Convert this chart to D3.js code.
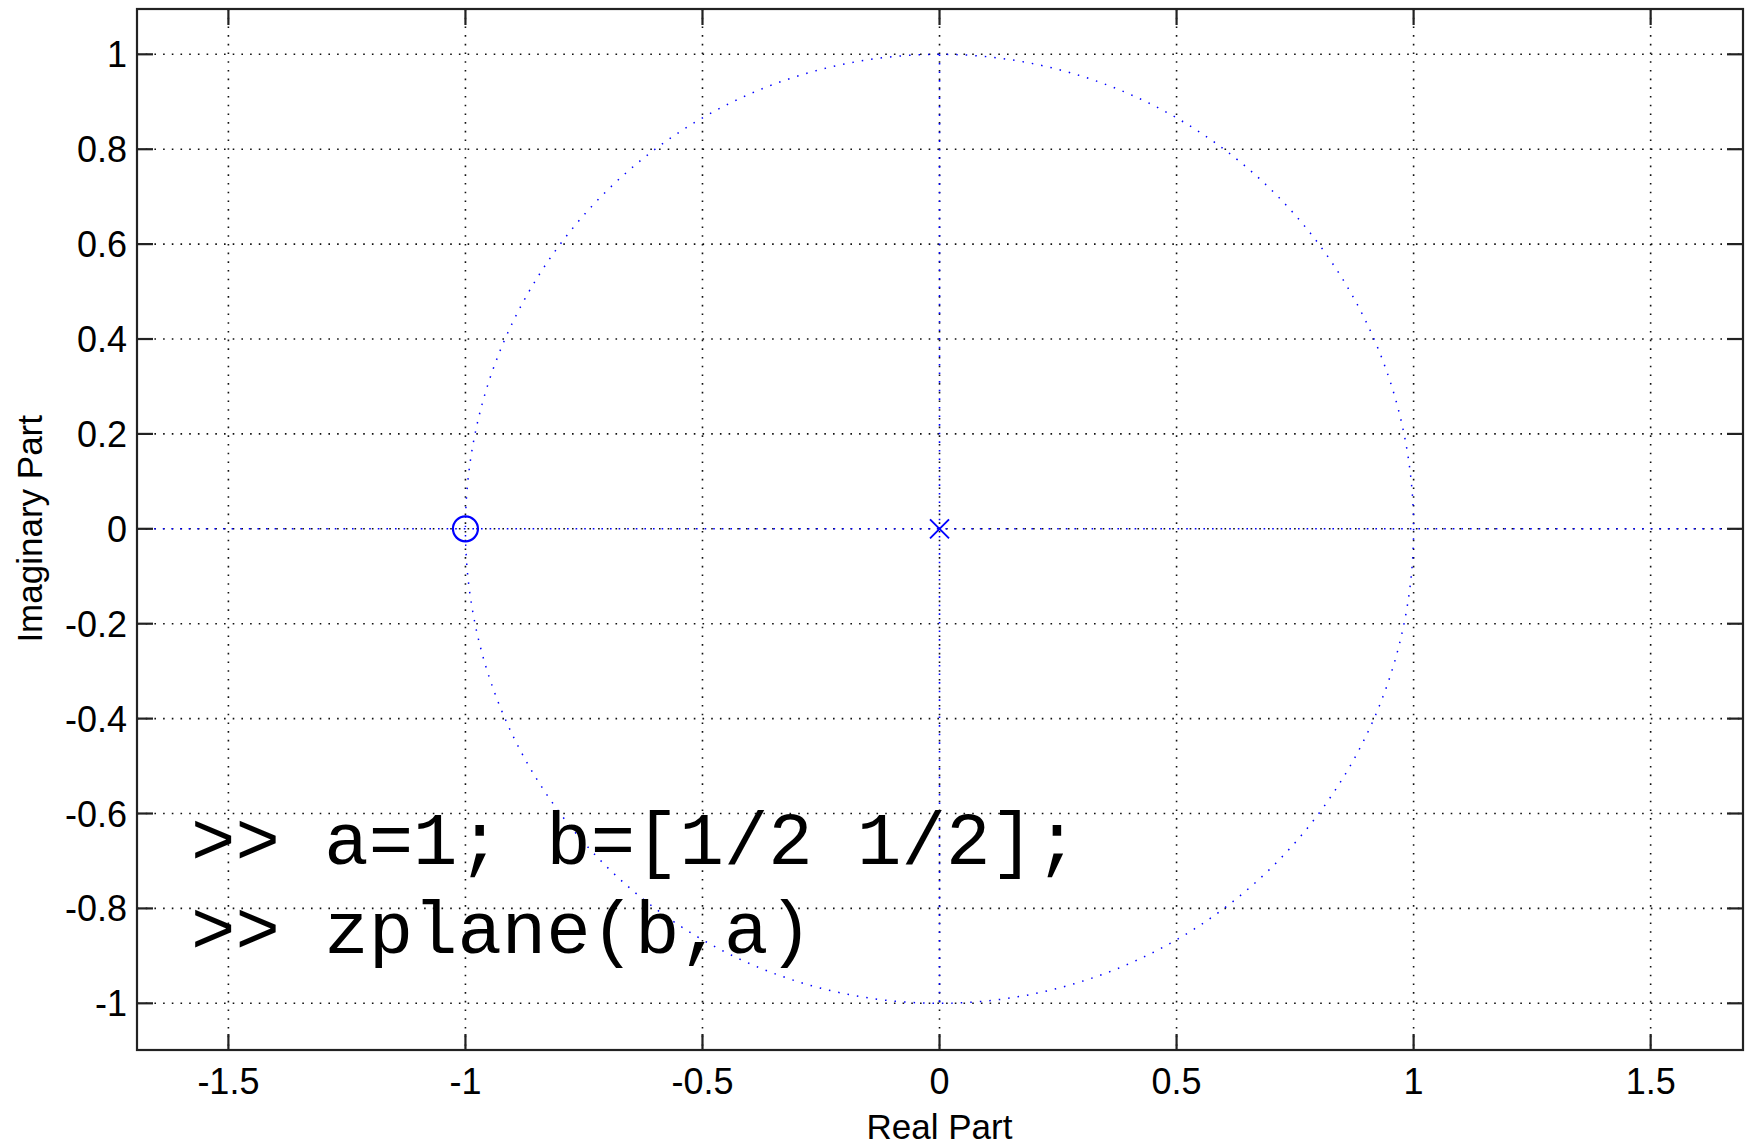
<!DOCTYPE html>
<html>
<head>
<meta charset="utf-8">
<script src="https://cdn.jsdelivr.net/npm/d3@7"></script>
<style>
  html, body { margin: 0; padding: 0; background: #fff; }
  svg { display: block; }
</style>
</head>
<body>
<script>
// ---- data ----
const xTicks = [-1.5, -1, -0.5, 0, 0.5, 1, 1.5];
const yTicks = [-1, -0.8, -0.6, -0.4, -0.2, 0, 0.2, 0.4, 0.6, 0.8, 1];
const zerosRe = [-1];
const zerosIm = [0];
const polesRe = [0];
const polesIm = [0];
const unitRadius = 1;
const codeLines = [">> a=1; b=[1/2 1/2];", ">> zplane(b,a)"];
const xLabel = "Real Part";
const yLabel = "Imaginary Part";

// ---- layout ----
const W = 1752, H = 1145;
const L = 137, T = 9, R = 1743, B = 1050;
const svg = d3.select("body").append("svg").attr("width", W).attr("height", H);

const x = d3.scaleLinear().domain([-1.6928, 1.6948]).range([L, R]);
const y = d3.scaleLinear().domain([-1.0984, 1.0955]).range([B, T]);

const blue = "#0000ff";
const font = "'Liberation Sans', Arial, sans-serif";

// grid
const g = svg.append("g");
g.selectAll("line.gx").data(xTicks).join("line")
  .attr("x1", d => x(d)).attr("x2", d => x(d)).attr("y1", T).attr("y2", B)
  .attr("stroke", "#111").attr("stroke-width", 1.6).attr("stroke-dasharray", "1.6,7.1");
g.selectAll("line.gy").data(yTicks).join("line")
  .attr("y1", d => y(d)).attr("y2", d => y(d)).attr("x1", L).attr("x2", R)
  .attr("stroke", "#111").attr("stroke-width", 1.6).attr("stroke-dasharray", "1.6,7.1");

// zplane axes lines (blue dotted)
svg.append("line").attr("x1", L).attr("x2", R).attr("y1", y(0)).attr("y2", y(0))
  .attr("stroke", blue).attr("stroke-width", 1.6).attr("stroke-dasharray", "1.6,7");
svg.append("line").attr("x1", x(0)).attr("x2", x(0)).attr("y1", y(unitRadius)).attr("y2", y(-unitRadius))
  .attr("stroke", blue).attr("stroke-width", 1.6).attr("stroke-dasharray", "1.6,7");

// unit circle
svg.append("ellipse").attr("cx", x(0)).attr("cy", y(0))
  .attr("rx", x(unitRadius) - x(0)).attr("ry", y(0) - y(unitRadius))
  .attr("fill", "none").attr("stroke", blue).attr("stroke-width", 1.5).attr("stroke-dasharray", "1.5,8");

// zeros
svg.selectAll("circle.zero").data(zerosRe.map((r, i) => [r, zerosIm[i]])).join("circle")
  .attr("cx", d => x(d[0])).attr("cy", d => y(d[1])).attr("r", 12.5)
  .attr("fill", "none").attr("stroke", blue).attr("stroke-width", 2.2);

// poles
const pg = svg.selectAll("g.pole").data(polesRe.map((r, i) => [r, polesIm[i]])).join("g")
  .attr("transform", d => `translate(${x(d[0])},${y(d[1])})`);
const s = 9.5;
pg.append("line").attr("x1", -s).attr("y1", -s).attr("x2", s).attr("y2", s).attr("stroke", blue).attr("stroke-width", 1.8);
pg.append("line").attr("x1", -s).attr("y1", s).attr("x2", s).attr("y2", -s).attr("stroke", blue).attr("stroke-width", 1.8);

// axes box + ticks
const tl = 16;
const ax = svg.append("g").attr("stroke", "#222").attr("stroke-width", 2.2);
ax.append("rect").attr("x", L).attr("y", T).attr("width", R - L).attr("height", B - T).attr("fill", "none");
xTicks.forEach(d => {
  ax.append("line").attr("x1", x(d)).attr("x2", x(d)).attr("y1", B).attr("y2", B - tl);
  ax.append("line").attr("x1", x(d)).attr("x2", x(d)).attr("y1", T).attr("y2", T + tl);
});
yTicks.forEach(d => {
  ax.append("line").attr("y1", y(d)).attr("y2", y(d)).attr("x1", L).attr("x2", L + tl);
  ax.append("line").attr("y1", y(d)).attr("y2", y(d)).attr("x1", R).attr("x2", R - tl);
});

// tick labels
svg.selectAll("text.xt").data(xTicks).join("text")
  .attr("x", d => x(d)).attr("y", 1094).attr("text-anchor", "middle")
  .attr("font-family", font).attr("font-size", 36).attr("fill", "#000")
  .text(d => String(d));
svg.selectAll("text.yt").data(yTicks).join("text")
  .attr("x", 127).attr("y", d => y(d) + 13).attr("text-anchor", "end")
  .attr("font-family", font).attr("font-size", 36).attr("fill", "#000")
  .text(d => String(d));

// axis labels
svg.append("text").attr("x", x(0)).attr("y", 1139).attr("text-anchor", "middle")
  .attr("font-family", font).attr("font-size", 35).attr("fill", "#000").text(xLabel);
svg.append("text").attr("transform", `translate(42,${y(0)}) rotate(-90)`).attr("text-anchor", "middle")
  .attr("font-family", font).attr("font-size", 35).attr("fill", "#000").text(yLabel);

// code annotation
svg.selectAll("text.code").data(codeLines).join("text")
  .attr("x", 191).attr("y", (d, i) => 864 + i * 89)
  .attr("font-family", "'Liberation Mono', 'Courier New', monospace").attr("font-size", 74)
  .attr("fill", "#000").attr("xml:space", "preserve").style("white-space", "pre")
  .text(d => d);
</script>
</body>
</html>
